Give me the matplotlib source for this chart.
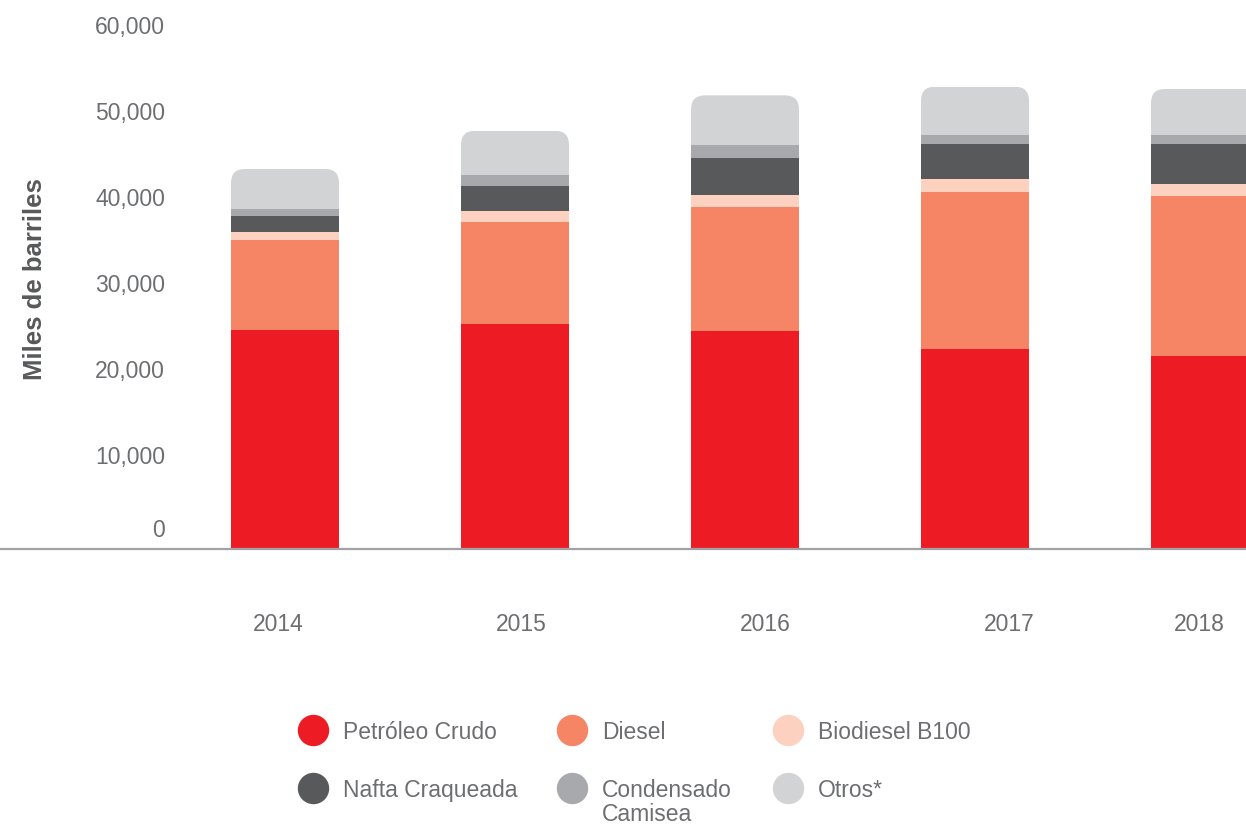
import numpy as np
import matplotlib
matplotlib.use('Agg')
import matplotlib.pyplot as plt
from matplotlib.patches import FancyBboxPatch
from matplotlib.lines import Line2D
from matplotlib.transforms import ScaledTranslation

# ---------------- data ----------------
years = ['2014', '2015', '2016', '2017', '2018']
petroleo = [25500, 26200, 25380, 23290, 22480]
diesel = [10430, 11860, 14390, 18220, 18600]
biodiesel = [930, 1240, 1390, 1510, 1400]
nafta = [1860, 2940, 4300, 4070, 4650]
condensado = [850, 1240, 1480, 1050, 970]
otros = [4620, 5150, 5810, 5620, 5390]

series_names = ['Petróleo Crudo', 'Diesel', 'Biodiesel B100',
                'Nafta Craqueada', 'Condensado\nCamisea', 'Otros*']
series = [petroleo, diesel, biodiesel, nafta, condensado, otros]
colors = ['#ED1C24', '#F58565', '#FDD1BF', '#58595B', '#A7A9AC', '#D1D3D4']

yticks = [0, 10000, 20000, 30000, 40000, 50000, 60000]
ytick_labels = ['0', '10,000', '20,000', '30,000', '40,000', '50,000', '60,000']
ylabel = 'Miles de barriles'

# ---------------- layout ----------------
plt.rcParams['font.family'] = ['Liberation Sans', 'DejaVu Sans']
W, H, DPI = 1246, 824, 100
fig = plt.figure(figsize=(W / DPI, H / DPI), dpi=DPI)

base_px = 549          # baseline pixel row
px_per_unit_y = 0.0086
x0_px, step_px = 285, 230
bar_w_px = 108
ax = fig.add_axes([0, (H - base_px) / H, 1, base_px / H])
ymax = base_px / px_per_unit_y
ax.set_ylim(0, ymax)
ax.set_xlim(-x0_px / step_px, (W - x0_px) / step_px)

x = np.arange(len(years))
width = bar_w_px / step_px
bottom = np.zeros(len(years))
bars_by_year = [[] for _ in years]
for vals, col, name in zip(series, colors, series_names):
    cont = ax.bar(x, vals, width, bottom=bottom, color=col, linewidth=0, label=name)
    for i, p in enumerate(cont.patches):
        bars_by_year[i].append(p)
    bottom = bottom + np.array(vals)

# rounded top corners
r_px = 14
aspect = step_px / px_per_unit_y
for i, tot in enumerate(bottom):
    clip = FancyBboxPatch((x[i] - width / 2, -ymax), width, tot + ymax,
                          boxstyle=f"round,pad=0,rounding_size={r_px / step_px}",
                          mutation_aspect=aspect, transform=ax.transData)
    for p in bars_by_year[i]:
        p.set_clip_path(clip)

for s in ['left', 'right', 'top']:
    ax.spines[s].set_visible(False)
ax.spines['bottom'].set_color('#A0A2A5')
ax.spines['bottom'].set_linewidth(1.6)

tick_color = '#6D6E71'
ax.set_yticks(yticks, ytick_labels)
ax.tick_params(axis='y', length=0, pad=-165 * 72 / DPI, labelsize=16.5,
               labelcolor=tick_color)
# year labels are slightly off-centre from the bars in the original layout
tick_shift = [-0.03, 0.026, 0.087, 0.148, -0.026]
ax.set_xticks(x + np.array(tick_shift), years)
ax.tick_params(axis='x', length=0, pad=64 * 72 / DPI, labelsize=16.5,
               labelcolor=tick_color)
for val, lbl in zip(yticks, ax.get_yticklabels()):
    dy = 21 if val == 0 else 8
    lbl.set_transform(lbl.get_transform() +
                      ScaledTranslation(0, dy / DPI, fig.dpi_scale_trans))

ax.set_ylabel(ylabel, fontsize=18.5, fontweight='bold', color='#58595B', va='center')
ax.yaxis.set_label_coords(35 / W, (base_px - 279) / base_px)

# legend (3 columns x 2 rows)
leg_x_px = [313, 572, 788]
leg_y_px = [730, 788]
for k, (name, col) in enumerate(zip(series_names, colors)):
    row, c = divmod(k, 3)
    cx, cy = leg_x_px[c], leg_y_px[row]
    fig.add_artist(Line2D([cx / W], [1 - cy / H], marker='o', markersize=21.6,
                          color=col, linestyle='none', transform=fig.transFigure))
    fig.text((cx + 30) / W, 1 - (cy - 9) / H, name, ha='left', va='top',
             fontsize=16.5, color=tick_color, linespacing=1.05)

fig.savefig('out.png', dpi=DPI)
